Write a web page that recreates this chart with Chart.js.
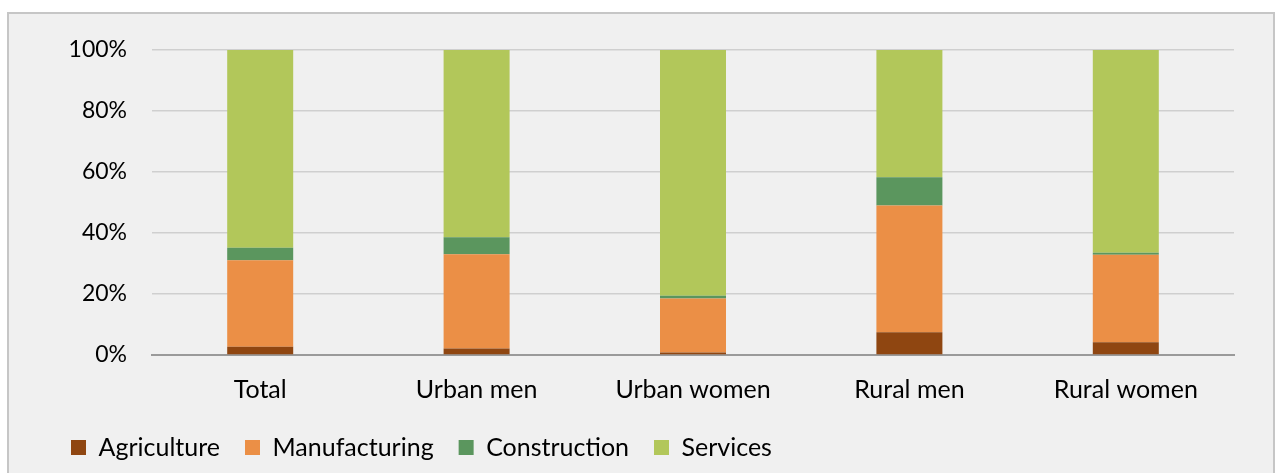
<!DOCTYPE html>
<html><head><meta charset="utf-8">
<script src="https://cdn.jsdelivr.net/npm/chart.js@4.4.0/dist/chart.umd.min.js"></script>
<style>
html,body{margin:0;padding:0;background:#fff;width:1280px;height:473px;overflow:hidden}
#frame{position:absolute;left:7px;top:12px;width:1264px;height:470px;border:2px solid #c6c6c6;background:#f0f0f0}
#wrap{position:absolute;left:0;top:0;width:1280px;height:473px}
</style></head><body>
<div id="frame"></div>
<div id="wrap"><canvas id="c" width="1280" height="473"></canvas></div>
<script>
const categories = ["Total", "Urban men", "Urban women", "Rural men", "Rural women"];
const agriculture   = [2.7, 2.1, 0.8, 7.5, 4.2];
const manufacturing = [28.4, 30.9, 17.7, 41.5, 28.7];
const construction  = [4.1, 5.6, 0.9, 9.3, 0.6];
const services      = [64.8, 61.4, 80.6, 41.7, 66.5];
const yTicks = [0, 20, 40, 60, 80, 100];

const FONT = "Lato";
const LEG_PAD = 25;
const ds = (label, data, color) => ({label, data, backgroundColor: color, borderWidth: 0,
  barPercentage: 0.305, categoryPercentage: 1});
const legendFix = {id: 'legendFix', afterInit(chart) {
  const lg = chart.legend;
  const origFit = lg.fit;
  lg.fit = function () { origFit.call(this); this.height = 63; };
}};
new Chart(document.getElementById('c'), {
  type: 'bar',
  data: {labels: categories, datasets: [
    ds('Agriculture', agriculture, '#8f4611'),
    ds('Manufacturing', manufacturing, '#eb8f46'),
    ds('Construction', construction, '#5b965e'),
    ds('Services', services, '#b2c75a')
  ]},
  plugins: [legendFix],
  options: {
    responsive: false, animation: false,
    layout: {padding: {left: 71 - LEG_PAD, right: 46, top: 50, bottom: 0}},
    plugins: {
      tooltip: {enabled: false},
      legend: {position: 'bottom', align: 'start',
        labels: {font: {family: FONT, size: 25}, color: '#000', boxWidth: 15, boxHeight: 15, padding: LEG_PAD}}
    },
    scales: {
      x: {stacked: true,
        afterFit: s => { s.height = 55; },
        grid: {display: false},
        border: {display: true, color: '#9a9a9a', width: 2},
        ticks: {font: {family: FONT, size: 25}, color: '#000', padding: 12}},
      y: {stacked: true, min: 0, max: 100,
        afterFit: s => { s.width = 152 - (71 - LEG_PAD); },
        afterBuildTicks: s => { s.ticks = yTicks.map(v => ({value: v})); },
        grid: {color: '#cfcfcf', lineWidth: 1.5, drawTicks: false},
        border: {display: false},
        ticks: {font: {family: FONT, size: 23}, color: '#000', padding: 25, callback: v => v + '%'}}
    }
  }
});
</script>
</body></html>
